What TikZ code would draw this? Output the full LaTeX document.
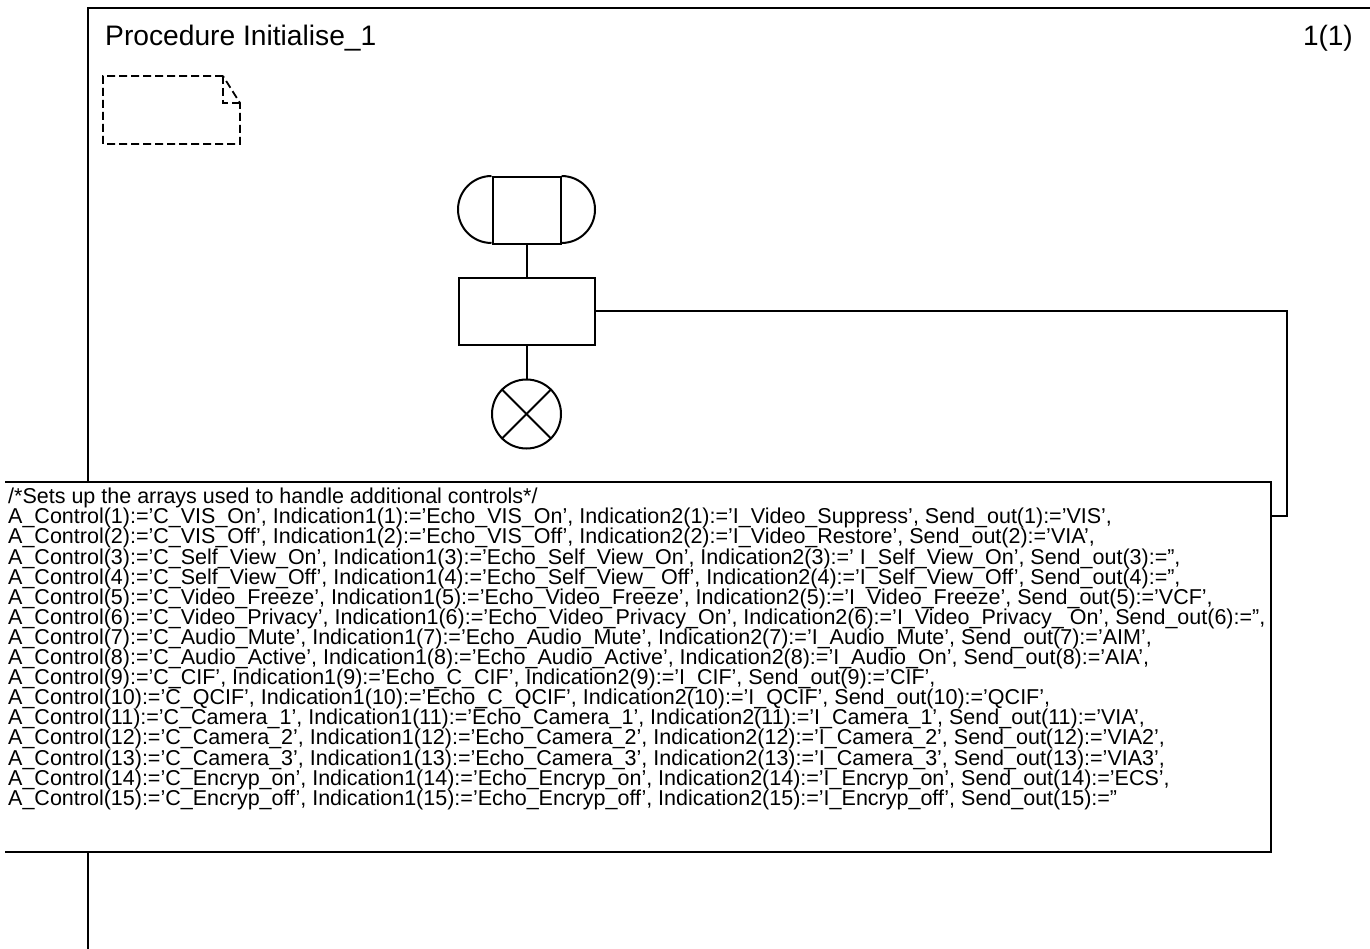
\documentclass[tikz,border=0pt]{standalone}
\usepackage{fontspec}
\setmainfont{Liberation Sans}
\usetikzlibrary{calc}
\begin{document}
\begin{tikzpicture}[x=1pt,y=-1pt,
  ln/.style={line width=2pt},
  frameline/.style={line width=2.4pt},
  notebox/.style={line width=1.8pt, dash pattern=on 8pt off 4pt},
  symb/.style={draw, line width=2pt, inner sep=0pt},
  txt/.style={font=\fontsize{21.5}{20.1}\selectfont, align=left, inner sep=0pt}]
\useasboundingbox (0,0) rectangle (1370,949);
% frame
\draw[frameline] (88,949) -- (88,8) -- (1370,8);
\node[anchor=base west, inner sep=0pt, font=\fontsize{28.2}{30}\selectfont] (title) at (105,46) {Procedure Initialise\_1};
\node[anchor=base east, inner sep=0pt, font=\fontsize{28}{30}\selectfont] (page) at (1353,46) {1(1)};
% dashed note
\coordinate (n1) at (103,76);
\coordinate (n2) at (223,76);
\coordinate (n3) at (240,103);
\coordinate (n4) at (240,144);
\coordinate (n5) at (103,144);
\draw[notebox] (n2) -- (n1) -- (n5) -- (n4) -- (n3) -- cycle;
\draw[notebox] (n2) -- (n2 |- n3) -- (n3);
% start symbol
\node[symb, minimum width=68pt, minimum height=67pt] (st) at (526.5,210.5) {};
\draw[ln] (st.north west) arc[start angle=90, end angle=270, radius=33.5pt];
\draw[ln] (st.north east) arc[start angle=90, end angle=-90, radius=33.5pt];
% task
\node[symb, minimum width=136pt, minimum height=67pt] (task) at (526.5,311.5) {};
% return
\node[symb, circle, minimum size=69pt] (stop) at (526.5,414) {};
\draw[ln] (stop.north west) -- (stop.south east);
\draw[ln] (stop.north east) -- (stop.south west);
\draw[ln] (st.south) -- (task.north);
\draw[ln] (task.south) -- (stop.north);
% text box
\node[minimum width=1266pt, minimum height=370pt, anchor=north west, inner sep=0pt] (tb) at (5,482) {};
\coordinate (c1) at (1287,516);
\draw[ln] (task.east) -| (c1) -- (c1 -| tb.east);
\fill[white] (tb.north west) rectangle (tb.south east);
\draw[ln] (tb.north west) -- (tb.north east) -- (tb.south east) -- (tb.south west);
\node[txt, anchor=north west] (code) at (8,488) {%
/*Sets up the arrays used to handle additional controls*/\\
A\_Control(1):='C\_VIS\_On', Indication1(1):='Echo\_VIS\_On', Indication2(1):='I\_Video\_Suppress', Send\_out(1):='VIS',\\
A\_Control(2):='C\_VIS\_Off', Indication1(2):='Echo\_VIS\_Off', Indication2(2):='I\_Video\_Restore', Send\_out(2):='VIA',\\
A\_Control(3):='C\_Self\_View\_On', Indication1(3):='Echo\_Self\_View\_On', Indication2(3):=' I\_Self\_View\_On', Send\_out(3):='',\\
A\_Control(4):='C\_Self\_View\_Off', Indication1(4):='Echo\_Self\_View\_ Off', Indication2(4):='I\_Self\_View\_Off', Send\_out(4):='',\\
A\_Control(5):='C\_Video\_Freeze', Indication1(5):='Echo\_Video\_Freeze', Indication2(5):='I\_Video\_Freeze', Send\_out(5):='VCF',\\
A\_Control(6):='C\_Video\_Privacy', Indication1(6):='Echo\_Video\_Privacy\_On', Indication2(6):='I\_Video\_Privacy\_ On', Send\_out(6):='',\\
A\_Control(7):='C\_Audio\_Mute', Indication1(7):='Echo\_Audio\_Mute', Indication2(7):='I\_Audio\_Mute', Send\_out(7):='AIM',\\
A\_Control(8):='C\_Audio\_Active', Indication1(8):='Echo\_Audio\_Active', Indication2(8):='I\_Audio\_On', Send\_out(8):='AIA',\\
A\_Control(9):='C\_CIF', Indication1(9):='Echo\_C\_CIF', Indication2(9):='I\_CIF', Send\_out(9):='CIF',\\
A\_Control(10):='C\_QCIF', Indication1(10):='Echo\_C\_QCIF', Indication2(10):='I\_QCIF', Send\_out(10):='QCIF',\\
A\_Control(11):='C\_Camera\_1', Indication1(11):='Echo\_Camera\_1', Indication2(11):='I\_Camera\_1', Send\_out(11):='VIA',\\
A\_Control(12):='C\_Camera\_2', Indication1(12):='Echo\_Camera\_2', Indication2(12):='I\_Camera\_2', Send\_out(12):='VIA2',\\
A\_Control(13):='C\_Camera\_3', Indication1(13):='Echo\_Camera\_3', Indication2(13):='I\_Camera\_3', Send\_out(13):='VIA3',\\
A\_Control(14):='C\_Encryp\_on', Indication1(14):='Echo\_Encryp\_on', Indication2(14):='I\_Encryp\_on', Send\_out(14):='ECS',\\
A\_Control(15):='C\_Encryp\_off', Indication1(15):='Echo\_Encryp\_off', Indication2(15):='I\_Encryp\_off', Send\_out(15):=''};
\end{tikzpicture}
\end{document}
